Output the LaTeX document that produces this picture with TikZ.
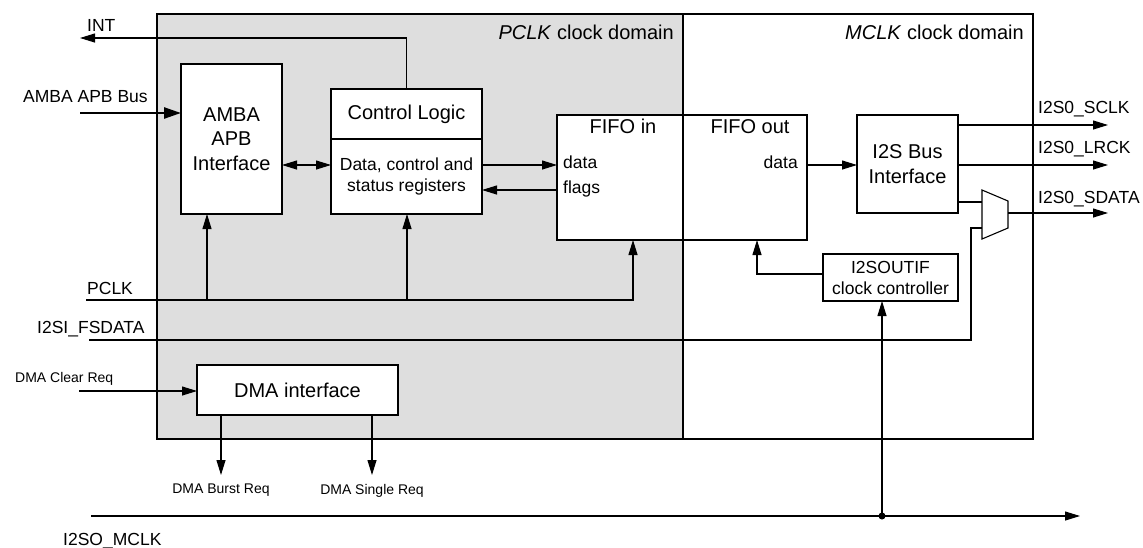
\documentclass[tikz,border=0pt]{standalone}
\usepackage{fontspec}
\setmainfont{Liberation Sans}
\usetikzlibrary{positioning, arrows.meta}
\definecolor{pdomgray}{RGB}{222,222,222}
\newcommand{\boxfont}{\fontsize{20}{24.5}\selectfont}
\newcommand{\lblfont}{\fontsize{17.5}{21}\selectfont}
\newcommand{\dmafont}{\fontsize{14}{16}\selectfont}

\begin{document}
\begin{tikzpicture}[
			x=1pt, y=-1pt,
			>={Triangle[length=15pt, width=9pt]},
			clkdom/.style={draw, line width=1.3pt, inner sep=0pt, outer sep=0pt, minimum height=425pt},
			blk/.style={draw, fill=white, line width=1.1pt, inner sep=0pt, outer sep=0pt, align=center},
			sig/.style={line width=1.1pt, ->},
			wire/.style={line width=1.1pt},
			lbl/.style={inner sep=0pt, font=\lblfont}
			]
			\useasboundingbox (0,0) rectangle (1143,547);
			\node[clkdom, fill=pdomgray, minimum width=526pt] (pdom) at (420,226.5) {};
			\node[clkdom, minimum width=350pt] (mdom) at (858,226.5) {};
			\node[lbl, font=\boxfont, anchor=base east] at (674,39) {\textit{PCLK} clock domain};
			\node[lbl, font=\boxfont, anchor=base east] at (1024,39) {\textit{MCLK} clock domain};

			\node[blk, font=\boxfont, minimum width=101pt, minimum height=150pt] (apb) at (231.5,139) {AMBA\\APB\\Interface};
			\node[blk, font=\boxfont, minimum width=151pt, minimum height=50pt] (ctl) at (406.5,114) {Control Logic};
			\node[blk, font=\lblfont, minimum width=151pt, minimum height=75pt, below=0pt of ctl] (reg) {Data, control and\\status registers};
			\node[blk, minimum width=126pt, minimum height=125pt] (fin) at (620,177.5) {};
			\node[blk, minimum width=124pt, minimum height=125pt, right=0pt of fin] (fout) {};
			\node[lbl, font=\boxfont, anchor=base] at (623,133) {FIFO in};
			\node[lbl, font=\boxfont, anchor=base] at (750,133) {FIFO out};
			\node[lbl, anchor=base west] at (563,168) {data};
			\node[lbl, anchor=base west] at (563,193) {flags};
			\node[lbl, anchor=base east] at (798,168) {data};
			\node[blk, font=\boxfont, minimum width=101pt, minimum height=98pt] (i2s) at (907.5,164) {I2S Bus\\Interface};
			\node[blk, font=\lblfont, minimum width=135pt, minimum height=47pt] (ckc) at (890.5,277.5) {I2SOUTIF\\clock controller};
			\node[blk, font=\boxfont, minimum width=201pt, minimum height=50pt] (dma) at (297.5,390) {DMA interface};
			\draw[wire, fill=white] (982,190) -- (1008,201) -- (1008,228) -- (982,239) -- cycle;

			\coordinate (int) at (80,38);
			\coordinate (bus) at (80,113);
			\coordinate (dat) at (0,165);
			\coordinate (flg) at (0,190);
			\coordinate (sclk) at (1108,125);
			\coordinate (lrck) at (1108,165);
			\coordinate (sdat) at (1108,213);
			\coordinate (muxa) at (982,202);
			\coordinate (muxb) at (982,228);
			\coordinate (muxo) at (1008,213);
			\coordinate (pclk) at (86,300);
			\coordinate (papb) at (207,300);
			\coordinate (preg) at (407,300);
			\coordinate (pfin) at (633,300);
			\coordinate (fsd) at (89,340);
			\coordinate (fsup) at (971,228);
			\coordinate (fck) at (757,274);
			\coordinate (dclr) at (79,391);
			\coordinate (dbst) at (221,475);
			\coordinate (dsgl) at (372,475);
			\coordinate (mclk) at (91,516);
			\coordinate (mtap) at (882,516);
			\coordinate (mclkend) at (1080,516);

			\draw[sig] (ctl.north) |- (int);
			\draw[line width=2.5pt, -{Triangle[length=17pt, width=11pt]}] (bus) -- (bus -| apb.west);
			\draw[wire, <->] (apb.east |- dat) -- (reg.west |- dat);
			\draw[sig] (reg.east |- dat) -- (fin.west |- dat);
			\draw[sig] (fin.west |- flg) -- (reg.east |- flg);
			\draw[sig] (fout.east |- dat) -- (i2s.west |- dat);
			\draw[sig] (i2s.east |- sclk) -- (sclk);
			\draw[sig] (i2s.east |- lrck) -- (lrck);
			\draw[wire] (i2s.east |- muxa) -- (muxa);
			\draw[sig] (muxo) -- (sdat);
			\draw[sig] (pclk) -| (fin.south -| pfin);
			\draw[sig] (papb) -- (apb.south -| papb);
			\draw[sig] (preg) -- (reg.south -| preg);
			\draw[wire] (fsd) -| (fsup) -- (muxb);
			\draw[sig] (ckc.west |- fck) -| (fout.south -| fck);
			\draw[sig] (dclr) -- (dma.west |- dclr);
			\draw[sig] (dma.south -| dbst) -- (dbst);
			\draw[sig] (dma.south -| dsgl) -- (dsgl);
			\draw[sig] (mclk) -- (mclkend);
			\draw[sig] (mtap) -- (ckc.south -| mtap);
			\fill (mtap) circle (3.5pt);

			\node[lbl, anchor=base west] at (87,31) {INT};
			\node[lbl, anchor=base west] at (23,102) {AMBA APB Bus};
			\node[lbl, anchor=base west] at (87,294) {PCLK};
			\node[lbl, anchor=base west] at (37,333) {I2SI\_FSDATA};
			\node[lbl, font=\dmafont, anchor=base west] at (15,382) {DMA Clear Req};
			\node[lbl, font=\dmafont, below=9pt of dbst] {DMA Burst Req};
			\node[lbl, font=\dmafont, below=9pt of dsgl] {DMA Single Req};
			\node[lbl, anchor=base west] at (63,545) {I2SO\_MCLK};
			\node[lbl, anchor=base west] at (1038,113) {I2S0\_SCLK};
			\node[lbl, anchor=base west] at (1038,153) {I2S0\_LRCK};
			\node[lbl, anchor=base west] at (1038,203) {I2S0\_SDATA};
		\end{tikzpicture}
\end{document}
